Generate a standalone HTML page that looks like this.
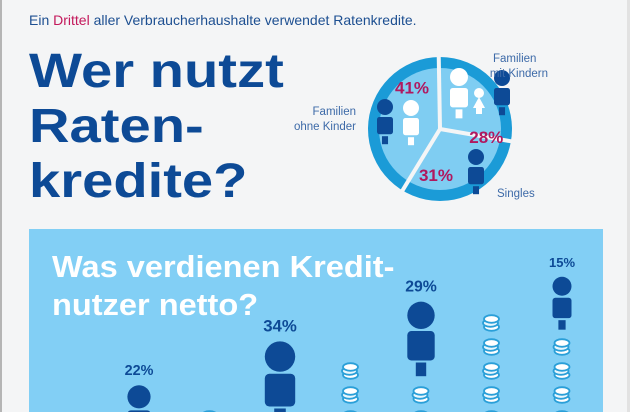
<!DOCTYPE html>
<html><head><meta charset="utf-8">
<style>
html{width:630px;height:412px;overflow:hidden;}
html,body{margin:0;padding:0;}
body{width:630px;height:412px;overflow:hidden;background:#f4f5f6;position:relative;font-family:"Liberation Sans",sans-serif;}
.lb{position:absolute;left:0;top:0;width:2px;height:412px;background:#b5b5b5;}
.rb{position:absolute;left:627px;top:0;width:3px;height:412px;background:#e2e2e2;}
.sub{position:absolute;left:29px;top:12px;font-size:14px;color:#1d4f91;white-space:nowrap;}
.sub span{color:#c3185b;}
.title{position:absolute;left:29px;top:44px;font-size:48px;font-weight:bold;color:#0d4a96;line-height:55px;transform-origin:0 0;transform:scaleX(1.17);white-space:nowrap;}
.panel{position:absolute;left:29px;top:229px;width:574px;height:183px;background:#82cff5;}
.ptitle{position:absolute;left:52px;top:248px;font-size:31px;font-weight:bold;color:#fff;line-height:38px;transform-origin:0 0;transform:scaleX(1.05);white-space:nowrap;}
svg{position:absolute;left:0;top:0;}
</style></head>
<body>
<div class="lb"></div>
<div class="rb"></div>
<div class="sub">Ein <span>Drittel</span> aller Verbraucherhaushalte verwendet Ratenkredite.</div>
<div class="title">Wer nutzt<br>Raten-<br>kredite?</div>
<div class="panel"></div>
<div class="ptitle">Was verdienen Kredit-<br>nutzer netto?</div>
<svg id="chart" width="630" height="412"></svg>
<script>
// Pie data
const pieLabels = ["Familien mit Kindern", "Singles", "Familien ohne Kinder"];
const pieValues = [28, 31, 41];
// Income chart data
const shares = [22, 34, 29, 15];
const personCoins = [0, 1, 3, 5];
const gapCoins = [2, 4, 6];

const NS = "http://www.w3.org/2000/svg";
const svg = document.getElementById("chart");
function mk(tag, attrs) {
  const e = document.createElementNS(NS, tag);
  for (const k in attrs) e.setAttribute(k, attrs[k]);
  svg.appendChild(e);
  return e;
}

// ---- Pie ----
const cx = 440, cy = 129, R = 72, Ri = 61;
const total = pieValues.reduce((a, b) => a + b, 0);
const startA = -91;
let a = startA;
const magenta = "#b0185f";
function pt(r, deg) { const t = deg * Math.PI / 180; return [cx + r * Math.cos(t), cy + r * Math.sin(t)]; }
const outer = mk("circle", {cx: cx, cy: cy, r: R, fill: "#1b9bd7"});


const inner = mk("circle", {cx: cx, cy: cy, r: Ri, fill: "#7fcdf2"});


const seps = [];
pieValues.forEach((v) => {
  const sweep = v / total * 360;
  seps.push(a);
  a += sweep;
});
seps.forEach((d) => {
  const p = pt(R + 2, d);
  const l = mk("line", {x1: cx, y1: cy, x2: p[0], y2: p[1], stroke: "#f4f5f6", "stroke-width": 4});
  
  
});
pieValues.forEach((v, i) => {
  let p;
  if (i === 0) p = pt(47, 10);
  else if (i === 1) p = pt(46, 95);
  else p = pt(50, 236);
  const t = mk("text", {x: p[0], y: p[1] + 6, "text-anchor": "middle", "font-size": 17, "font-weight": "bold", fill: magenta, "font-family": "Liberation Sans, sans-serif"});
  t.textContent = v + "%";
  
  
});

function person(x, top, r, color, name) {
  const g = document.createElementNS(NS, "g");
  
  
  svg.appendChild(g);
  const c = document.createElementNS(NS, "circle");
  c.setAttribute("cx", x); c.setAttribute("cy", top + r); c.setAttribute("r", r); c.setAttribute("fill", color);
  g.appendChild(c);
  const b = document.createElementNS(NS, "rect");
  b.setAttribute("x", x - r); b.setAttribute("y", top + 2 * r + 2); b.setAttribute("width", 2 * r); b.setAttribute("height", 2.15 * r);
  b.setAttribute("rx", r * 0.3); b.setAttribute("fill", color);
  g.appendChild(b);
  const l = document.createElementNS(NS, "rect");
  l.setAttribute("x", x - 0.38 * r); l.setAttribute("y", top + 4.15 * r + 4); l.setAttribute("width", 0.76 * r); l.setAttribute("height", 1.0 * r);
  l.setAttribute("fill", color);
  g.appendChild(l);
}
const dark = "#0d4a96";
person(385, 99, 8, dark, "icon-parent-dark");
person(411, 100, 8, "#fff", "icon-parent-white");
person(459, 68, 9, "#fff", "icon-adult-white");
person(502, 70, 8, dark, "icon-adult-dark");
person(476, 149, 8, dark, "icon-single");
const gh = mk("circle", {cx: 479, cy: 93, r: 5, fill: "#fff"});


const gb = mk("polygon", {points: "479,97 473,108 485,108", fill: "#fff"});


const gl = mk("rect", {x: 476, y: 108, width: 6, height: 6, fill: "#fff"});



function label(x, y, lines, anchor, name) {
  lines.forEach((s, i) => {
    const t = mk("text", {x: x, y: y + i * 15, "text-anchor": anchor, "font-size": 11.5, fill: "#3d6aa8", "font-family": "Liberation Sans, sans-serif"});
    t.textContent = s;
    
    
  });
}
label(493, 62, ["Familien"], "start", "legend-families-with-children");
label(548, 77, ["mit Kindern"], "end", "legend-families-with-children");
label(356, 115, ["Familien", "ohne Kinder"], "end", "legend-families-without-children");
label(497, 197, ["Singles"], "start", "legend-singles");

// ---- Income chart ----
const x0 = 139, colStep = 70.5;
function colX(k) { return x0 + k * colStep; }
function coinY(j) { return 443 - 24 * j; }
function baseY(n) { return 449 - 24 * n; }
function coin(x, y) {
  const g = document.createElementNS(NS, "g");
  
  
  svg.appendChild(g);
  [[4, "#fff"], [0, "#e9f7fd"], [-4, "#fff"]].forEach(o => {
    const e = document.createElementNS(NS, "ellipse");
    e.setAttribute("cx", x + (o[0] === 0 ? -1 : 0)); e.setAttribute("cy", y + o[0]);
    e.setAttribute("rx", 7.5); e.setAttribute("ry", 3.8);
    e.setAttribute("fill", o[1]); e.setAttribute("stroke", "#2a9fd8"); e.setAttribute("stroke-width", 1.8);
    g.appendChild(e);
  });
}
personCoins.forEach((n, i) => {
  for (let j = 0; j < n; j++) coin(colX(2 * i), coinY(j));
});
gapCoins.forEach((n, i) => {
  for (let j = 0; j < n; j++) coin(colX(2 * i + 1), coinY(j));
});
shares.forEach((v, i) => {
  const r = 5 + v * 0.3;
  const bottom = baseY(personCoins[i]);
  const h = 5.5 * r;
  const top = bottom - h;
  const x = colX(2 * i);
  person(x, top, r, dark, "income-person-" + i);
  const t = mk("text", {x: x, y: top - 10, "text-anchor": "middle", "font-size": 10 + v * 0.2, "font-weight": "bold", fill: dark, "font-family": "Liberation Sans, sans-serif"});
  t.textContent = v + "%";
  
  
});
</script>
</body></html>
